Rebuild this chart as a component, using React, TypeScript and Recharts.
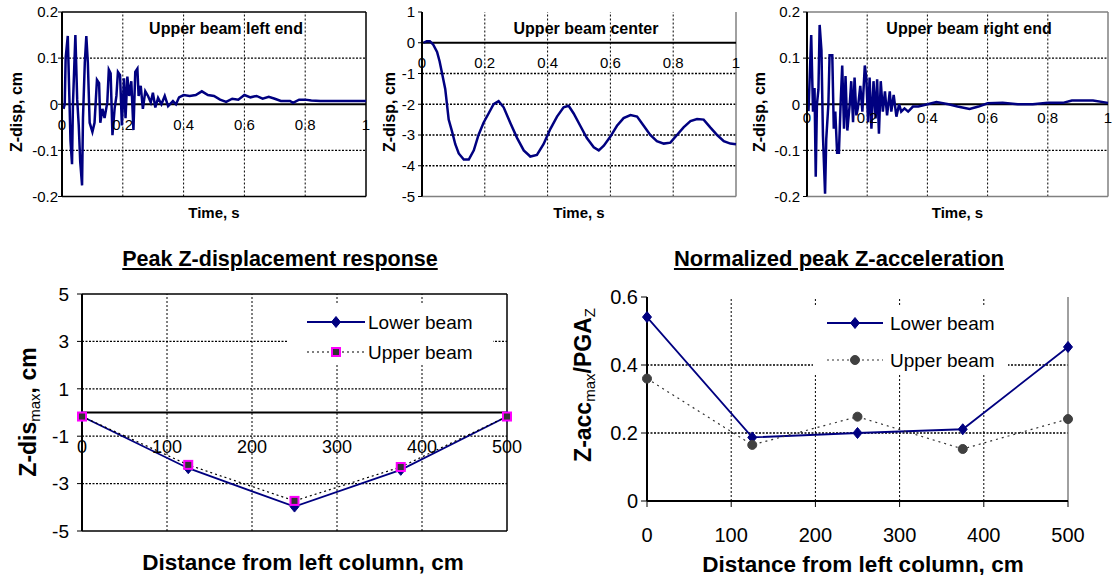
import React from 'react';
import { LineChart, Line, XAxis, YAxis, ReferenceLine, Legend } from 'recharts';

const FONT = '"Liberation Sans", Arial, Helvetica, sans-serif';
const NAVY = '#000080';

// ---------- Top panels: time histories ----------
const timeTicks = [0, 0.2, 0.4, 0.6, 0.8, 1];
const timeGrid = [0.2, 0.4, 0.6, 0.8];
const endDispTicks = [-0.2, -0.1, 0, 0.1, 0.2];
const endDispGrid = [-0.1, 0.1];
const centerDispTicks = [-5, -4, -3, -2, -1, 0, 1];
const centerDispGrid = [-4, -3, -2, -1];

const leftEndTime = [0.005,0.009,0.012,0.019,0.025,0.028,0.033,0.036,0.044,0.05,0.055,0.06,0.066,0.069,0.075,0.08,0.085,0.091,0.1,0.107,0.115,0.122,0.126,0.133,0.14,0.149,0.154,0.16,0.166,0.173,0.179,0.184,0.191,0.197,0.204,0.209,0.215,0.221,0.228,0.235,0.241,0.248,0.252,0.259,0.266,0.274,0.283,0.292,0.299,0.307,0.316,0.327,0.338,0.349,0.365,0.375,0.385,0.4,0.42,0.44,0.46,0.48,0.5,0.52,0.54,0.56,0.58,0.6,0.62,0.64,0.66,0.68,0.7,0.72,0.75,0.76,0.78,0.8,0.82,0.85,0.9,1.0];
const leftEndDisp = [-0.01,0.0,0.1,0.148,-0.004,-0.08,-0.13,0.0,0.15,0.01,-0.045,-0.125,-0.176,-0.03,0.09,0.148,0.09,-0.04,-0.06,-0.04,0.053,0.046,-0.04,-0.01,-0.03,0.004,0.075,0.067,-0.067,-0.01,0.018,0.07,0.063,-0.046,0.056,-0.03,0.06,0.018,0.05,-0.056,0.07,0.077,0.018,0.04,-0.01,0.028,0.018,0.004,0.025,-0.007,0.014,0.0,0.018,-0.004,0.007,0.0,0.015,0.02,0.018,0.02,0.028,0.02,0.018,0.01,0.005,0.012,0.01,0.02,0.015,0.018,0.012,0.016,0.012,0.007,0.007,0.003,0.01,0.01,0.008,0.007,0.007,0.007];

const centerTime = [0.005,0.015,0.025,0.035,0.048,0.056,0.064,0.074,0.085,0.096,0.106,0.117,0.133,0.149,0.165,0.18,0.196,0.212,0.228,0.244,0.26,0.281,0.303,0.324,0.345,0.366,0.387,0.409,0.43,0.451,0.467,0.483,0.504,0.525,0.547,0.563,0.579,0.6,0.621,0.642,0.664,0.685,0.706,0.727,0.748,0.77,0.791,0.812,0.833,0.855,0.876,0.897,0.918,0.94,0.961,0.982,1.0];
const centerDisp = [0,0.05,0.05,-0.05,-0.3,-0.6,-1.0,-1.5,-2.5,-2.9,-3.3,-3.6,-3.8,-3.8,-3.5,-3.0,-2.6,-2.3,-2.0,-1.9,-2.1,-2.6,-3.1,-3.5,-3.7,-3.65,-3.3,-2.8,-2.4,-2.1,-2.05,-2.3,-2.7,-3.1,-3.4,-3.5,-3.35,-3.05,-2.7,-2.45,-2.35,-2.4,-2.7,-3.0,-3.2,-3.28,-3.25,-3.0,-2.75,-2.55,-2.48,-2.5,-2.75,-3.0,-3.2,-3.28,-3.3];

const rightEndTime = [0.005,0.014,0.02,0.025,0.029,0.033,0.038,0.042,0.048,0.053,0.06,0.064,0.071,0.075,0.084,0.089,0.094,0.1,0.106,0.112,0.117,0.123,0.128,0.134,0.142,0.147,0.153,0.158,0.164,0.169,0.177,0.184,0.192,0.197,0.203,0.208,0.214,0.221,0.228,0.233,0.239,0.245,0.252,0.259,0.266,0.275,0.28,0.288,0.297,0.306,0.313,0.324,0.336,0.352,0.37,0.4,0.43,0.47,0.5,0.54,0.57,0.6,0.65,0.7,0.75,0.8,0.85,0.88,0.95,1.0];
const rightEndDisp = [-0.015,0.15,-0.016,0.035,-0.157,0.0,0.032,0.172,0.117,-0.068,-0.194,-0.075,0.0,0.106,0.106,-0.053,-0.016,-0.105,-0.105,0.006,0.084,-0.053,0.061,-0.057,0.0,0.05,-0.039,0.058,-0.024,-0.009,0.04,-0.016,0.084,0.058,-0.039,0.058,-0.053,0.05,-0.031,0.054,-0.064,0.05,-0.016,0.028,-0.024,0.028,-0.016,0.02,-0.027,0.0,-0.016,-0.009,-0.016,-0.005,-0.005,0.0,0.005,0.0,-0.005,-0.01,-0.005,0.002,0.003,0.0,0.0,0.003,0.003,0.008,0.008,0.003];

// ---------- Bottom panels: peak responses ----------
const distance = [0, 125, 250, 375, 500];
const peakDispLower = [-0.17, -2.35, -3.97, -2.42, -0.17];
const peakDispUpper = [-0.17, -2.21, -3.73, -2.3, -0.17];
const peakAccLower = [0.541, 0.187, 0.2, 0.211, 0.453];
const peakAccUpper = [0.36, 0.165, 0.248, 0.153, 0.241];
const distTicks = [0, 100, 200, 300, 400, 500];
const distGrid = [100, 200, 300, 400];
const dispTicks = [-5, -3, -1, 1, 3, 5];
const dispGrid = [-3, -1, 1, 3];
const accTicks = [0, 0.2, 0.4, 0.6];
const accGrid = [0.2, 0.4];
const seriesNames = ['Lower beam', 'Upper beam'];

const fmt = (v: number) => String(v);

const Diamond = (props: any) => {
  const { cx, cy, index } = props;
  if (cx == null || cy == null) return <g key={'dn' + index} />;
  return (
    <path key={'dm' + index} d={`M${cx},${cy - 5.5}L${cx + 4.5},${cy}L${cx},${cy + 5.5}L${cx - 4.5},${cy}Z`} fill={NAVY} stroke={NAVY} strokeWidth={1} />
  );
};
const MagentaSquare = (props: any) => {
  const { cx, cy, index } = props;
  if (cx == null || cy == null) return <g key={'sn' + index} />;
  return <rect key={'sq' + index} x={cx - 4} y={cy - 4} width={8} height={8} fill="#333333" stroke="#ff00ff" strokeWidth={2} />;
};
const GrayCircle = (props: any) => {
  const { cx, cy, index } = props;
  if (cx == null || cy == null) return <g key={'cn' + index} />;
  return <circle key={'ci' + index} cx={cx} cy={cy} r={4.5} fill="#404040" stroke="#404040" />;
};

function TopPanel(p: any) {
  const { left, width, yAxisWidth, marginRight, time, disp, yTicks, yGrid, yDomain, title, titleCX, tickGap, ylabelX, topBorder, rightBorder, bottomBorder, tickMargin } = p;
  const H = 230, TOP = 12, XH = 33.5;
  const plotH = H - TOP - XH;
  const zeroY = TOP + (plotH * yDomain[1]) / (yDomain[1] - yDomain[0]);
  const data = time.map((t: number, i: number) => ({ t, z: disp[i] }));
  const plotCX = yAxisWidth + (width - yAxisWidth - marginRight) / 2;
  return (
    <div style={{ position: 'absolute', left, top: 0, width, height: H }}>
      <LineChart width={width} height={H} data={data} margin={{ top: TOP, right: marginRight, bottom: 0, left: 0 }}>
        {timeGrid.map((v) => (
          <ReferenceLine key={'gx' + v} x={v} stroke="#000" strokeWidth={1} strokeDasharray="2 2" />
        ))}
        {yGrid.map((v: number) => (
          <ReferenceLine key={'gy' + v} y={v} stroke="#000" strokeWidth={1.3} strokeDasharray="2 1.5" />
        ))}
        {topBorder && <ReferenceLine y={yDomain[1]} stroke={topBorder} strokeWidth={1.5} />}
        {rightBorder && <ReferenceLine x={1} stroke={rightBorder} strokeWidth={1.5} />}
        {bottomBorder && <ReferenceLine y={yDomain[0]} stroke={bottomBorder} strokeWidth={1.5} />}
        <ReferenceLine y={0} stroke="#000" strokeWidth={2} />
        <XAxis
          type="number"
          dataKey="t"
          domain={[0, 1]}
          ticks={timeTicks}
          interval={0}
          axisLine={false}
          tickLine={false}
          tickSize={0}
          height={XH}
          tick={(tp: any) => (
            <text key={'xt' + tp.index} x={tp.x} y={zeroY + tickGap} textAnchor="middle" dominantBaseline="central" fontSize={15} fill="#000" fontFamily={FONT}>
              {fmt(tp.payload.value)}
            </text>
          )}
          label={() => (
            <text x={plotCX} y={212} textAnchor="middle" dominantBaseline="central" fontSize={15} fontWeight="bold" fill="#000" fontFamily={FONT}>
              Time, s
            </text>
          )}
        />
        <YAxis
          type="number"
          domain={yDomain}
          ticks={yTicks}
          interval={0}
          width={yAxisWidth}
          axisLine={{ stroke: '#000', strokeWidth: 2 }}
          tickLine={{ stroke: '#000' }}
          tickSize={4}
          tickMargin={tickMargin}
          tick={{ fontSize: 15, fill: '#000', fontFamily: FONT }}
          tickFormatter={fmt}
          label={() => (
            <text x={ylabelX} y={112} transform={`rotate(-90 ${ylabelX} 112)`} textAnchor="middle" dominantBaseline="central" fontSize={16} fontWeight="bold" fill="#000" fontFamily={FONT}>
              Z-disp, cm
            </text>
          )}
        />
        <Line type="linear" dataKey="z" stroke={NAVY} strokeWidth={2.5} dot={false} isAnimationActive={false} />
      </LineChart>
      <div style={{ position: 'absolute', left: titleCX, top: 20, transform: 'translateX(-50%)', whiteSpace: 'nowrap', fontFamily: FONT, fontWeight: 'bold', fontSize: 16, lineHeight: '18px', color: '#000' }}>
        {title}
      </div>
    </div>
  );
}

function LegendBox(p: any) {
  const { width, height, row1, row2, swL, swR, markX, textX, lowerMarker, upperMarker, upperStroke, fontSize } = p;
  const rows = [
    { y: row1, name: seriesNames[0], stroke: NAVY, dash: undefined, marker: lowerMarker, sw: 1.8 },
    { y: row2, name: seriesNames[1], stroke: upperStroke, dash: '2 3', marker: upperMarker, sw: 1.2 },
  ];
  return (
    <div style={{ position: 'relative', width, height, background: '#fff' }}>
      <svg width={width} height={height} style={{ position: 'absolute', left: 0, top: 0 }}>
        {rows.map((r, i) => (
          <g key={i}>
            <line x1={swL} x2={swR} y1={r.y} y2={r.y} stroke={r.stroke} strokeWidth={r.sw} strokeDasharray={r.dash} />
            {r.marker({ cx: markX, cy: r.y, index: 'lg' + i })}
            <text x={textX} y={r.y} dominantBaseline="central" fontSize={fontSize} fill="#000" fontFamily={FONT}>
              {r.name}
            </text>
          </g>
        ))}
      </svg>
    </div>
  );
}

function PeakDispPanel() {
  const W = 560, H = 335, TOP = 54, YW = 82, MR = 53, XH = 44;
  const plotH = H - TOP - XH;
  const zeroY = TOP + (plotH * 5) / 10;
  const data = distance.map((d, i) => ({ d, lower: peakDispLower[i], upper: peakDispUpper[i] }));
  return (
    <div style={{ position: 'absolute', left: 0, top: 240, width: W, height: H }}>
      <LineChart width={W} height={H} data={data} margin={{ top: TOP, right: MR, bottom: 0, left: 0 }}>
        {distGrid.map((v) => (
          <ReferenceLine key={'gx' + v} x={v} stroke="#000" strokeWidth={1} strokeDasharray="2 2" />
        ))}
        {dispGrid.map((v) => (
          <ReferenceLine key={'gy' + v} y={v} stroke="#000" strokeWidth={1.3} strokeDasharray="2 1.5" />
        ))}
        <ReferenceLine y={5} stroke="#000" strokeWidth={1.5} />
        <ReferenceLine y={-5} stroke="#000" strokeWidth={1.5} />
        <ReferenceLine x={500} stroke="#000" strokeWidth={1.5} />
        <ReferenceLine y={0} stroke="#000" strokeWidth={2} />
        <XAxis
          type="number"
          dataKey="d"
          domain={[0, 500]}
          ticks={distTicks}
          interval={0}
          axisLine={false}
          tickLine={false}
          tickSize={0}
          height={XH}
          tick={(tp: any) => (
            <text key={'xt' + tp.index} x={tp.x} y={zeroY + 34} textAnchor="middle" dominantBaseline="central" fontSize={18} fill="#000" fontFamily={FONT}>
              {fmt(tp.payload.value)}
            </text>
          )}
          label={() => (
            <text x={303} y={322} textAnchor="middle" dominantBaseline="central" fontSize={22.5} fontWeight="bold" fill="#000" fontFamily={FONT}>
              Distance from left column, cm
            </text>
          )}
        />
        <YAxis
          type="number"
          domain={[-5, 5]}
          ticks={dispTicks}
          interval={0}
          width={YW}
          axisLine={{ stroke: '#000', strokeWidth: 2 }}
          tickLine={{ stroke: '#000' }}
          tickSize={5}
          tickMargin={8}
          tick={{ fontSize: 19, fill: '#000', fontFamily: FONT }}
          tickFormatter={fmt}
          label={() => (
            <text x={28} y={172} transform={`rotate(-90 28 172)`} textAnchor="middle" dominantBaseline="central" fontSize={23} fontWeight="bold" fill="#000" fontFamily={FONT}>
              Z-dis<tspan fontSize={15} fontWeight="normal" dy={6}>max</tspan>
              <tspan dy={-6}>, cm</tspan>
            </text>
          )}
        />
        <Line type="linear" dataKey="lower" stroke={NAVY} strokeWidth={1.8} dot={Diamond} isAnimationActive={false} />
        <Line type="linear" dataKey="upper" stroke="#000" strokeWidth={1.2} strokeDasharray="2 3" dot={MagentaSquare} isAnimationActive={false} />
        <Legend
          layout="vertical"
          align="center"
          verticalAlign="middle"
          wrapperStyle={{ left: 287, top: 65, width: 206, height: 60 }}
          content={() => (
            <LegendBox width={206} height={60} row1={17} row2={47} swL={20} swR={78} markX={49} textX={81} lowerMarker={Diamond} upperMarker={MagentaSquare} upperStroke="#000" fontSize={19} />
          )}
        />
      </LineChart>
      <div style={{ position: 'absolute', left: 280, top: 7, transform: 'translateX(-50%)', whiteSpace: 'nowrap', fontFamily: FONT, fontWeight: 'bold', fontSize: 21.5, lineHeight: '24px', textDecoration: 'underline', color: '#000' }}>
        Peak Z-displacement response
      </div>
    </div>
  );
}

function PeakAccPanel() {
  const W = 553, H = 335, TOP = 57, YW = 87, MR = 45, XH = 74;
  const data = distance.map((d, i) => ({ d, lower: peakAccLower[i], upper: peakAccUpper[i] }));
  return (
    <div style={{ position: 'absolute', left: 560, top: 240, width: W, height: H }}>
      <LineChart width={W} height={H} data={data} margin={{ top: TOP, right: MR, bottom: 0, left: 0 }}>
        {distGrid.map((v) => (
          <ReferenceLine key={'gx' + v} x={v} stroke="#000" strokeWidth={1} strokeDasharray="2 2" />
        ))}
        {accGrid.map((v) => (
          <ReferenceLine key={'gy' + v} y={v} stroke="#000" strokeWidth={1.3} strokeDasharray="2 1.5" />
        ))}
        <ReferenceLine x={500} stroke="#808080" strokeWidth={1.5} />
        <XAxis
          type="number"
          dataKey="d"
          domain={[0, 500]}
          ticks={distTicks}
          interval={0}
          axisLine={{ stroke: '#000', strokeWidth: 2 }}
          tickLine={{ stroke: '#000' }}
          tickSize={6}
          height={XH}
          tick={(tp: any) => (
            <text key={'xt' + tp.index} x={tp.x} y={295} textAnchor="middle" dominantBaseline="central" fontSize={20} fill="#000" fontFamily={FONT}>
              {fmt(tp.payload.value)}
            </text>
          )}
          label={() => (
            <text x={303} y={324} textAnchor="middle" dominantBaseline="central" fontSize={22.5} fontWeight="bold" fill="#000" fontFamily={FONT}>
              Distance from left column, cm
            </text>
          )}
        />
        <YAxis
          type="number"
          domain={[0, 0.6]}
          ticks={accTicks}
          interval={0}
          width={YW}
          axisLine={{ stroke: '#000', strokeWidth: 2 }}
          tickLine={{ stroke: '#000' }}
          tickSize={6}
          tickMargin={3}
          tick={{ fontSize: 20, fill: '#000', fontFamily: FONT }}
          tickFormatter={fmt}
          label={() => (
            <text x={23} y={145} transform={`rotate(-90 23 145)`} textAnchor="middle" dominantBaseline="central" fontSize={23} fontWeight="bold" fill="#000" fontFamily={FONT}>
              Z-acc<tspan fontSize={15} fontWeight="normal" dy={6}>max</tspan>
              <tspan dy={-6}>/PGA</tspan>
              <tspan fontSize={15} fontWeight="normal" dy={6}>Z</tspan>
            </text>
          )}
        />
        <Line type="linear" dataKey="lower" stroke={NAVY} strokeWidth={1.8} dot={Diamond} isAnimationActive={false} />
        <Line type="linear" dataKey="upper" stroke="#333" strokeWidth={1.2} strokeDasharray="2 4" dot={GrayCircle} isAnimationActive={false} />
        <Legend
          layout="vertical"
          align="center"
          verticalAlign="middle"
          wrapperStyle={{ left: 253, top: 67, width: 195, height: 66 }}
          content={() => (
            <LegendBox width={195} height={66} row1={16} row2={53} swL={14} swR={70} markX={42} textX={77} lowerMarker={Diamond} upperMarker={GrayCircle} upperStroke="#333" fontSize={19} />
          )}
        />
      </LineChart>
      <div style={{ position: 'absolute', left: 279, top: 7, transform: 'translateX(-50%)', whiteSpace: 'nowrap', fontFamily: FONT, fontWeight: 'bold', fontSize: 22, lineHeight: '24px', textDecoration: 'underline', color: '#000' }}>
        Normalized peak Z-acceleration
      </div>
    </div>
  );
}

export default function App() {
  return (
    <div style={{ position: 'absolute', left: 0, top: 0, width: 1113, height: 575, background: '#fff', fontFamily: FONT, overflow: 'hidden' }}>
      <TopPanel left={0} width={380} yAxisWidth={62} marginRight={14} time={leftEndTime} disp={leftEndDisp} yTicks={endDispTicks} yGrid={endDispGrid} yDomain={[-0.2, 0.2]} title="Upper beam left end" titleCX={226} tickGap={20} ylabelX={16} topBorder="#000" rightBorder="#000" bottomBorder="#000" tickMargin={0} />
      <TopPanel left={370} width={380} yAxisWidth={52} marginRight={14} time={centerTime} disp={centerDisp} yTicks={centerDispTicks} yGrid={centerDispGrid} yDomain={[-5, 1]} title="Upper beam center" titleCX={216} tickGap={20} ylabelX={19} topBorder={null} rightBorder="#808080" bottomBorder="#808080" tickMargin={3} />
      <TopPanel left={740} width={373} yAxisWidth={67} marginRight={5} time={rightEndTime} disp={rightEndDisp} yTicks={endDispTicks} yGrid={endDispGrid} yDomain={[-0.2, 0.2]} title="Upper beam right end" titleCX={229} tickGap={13} ylabelX={19} topBorder="#808080" rightBorder="#808080" bottomBorder="#808080" tickMargin={3} />
      <PeakDispPanel />
      <PeakAccPanel />
    </div>
  );
}
